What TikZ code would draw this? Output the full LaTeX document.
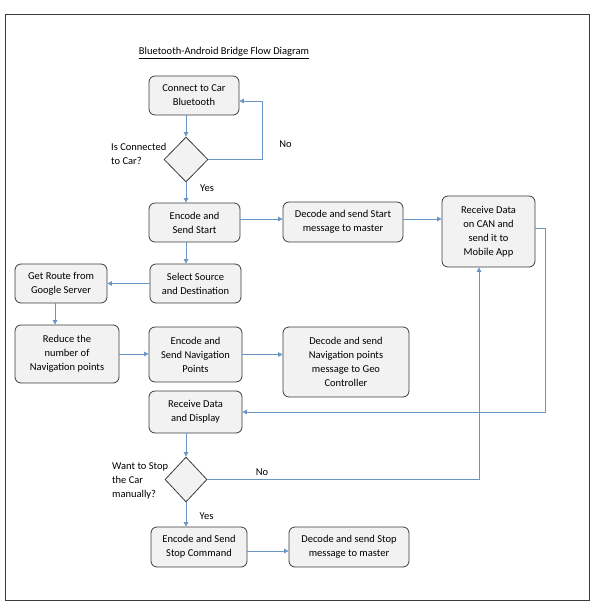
\documentclass[tikz,border=0pt]{standalone}
\usepackage{fontspec}
\setmainfont{Carlito}
\usetikzlibrary{arrows.meta,shapes.geometric,calc}
\definecolor{arrowblue}{RGB}{105,150,198}
\definecolor{boxfill}{RGB}{242,242,242}
\definecolor{boxline}{RGB}{60,60,60}
\begin{document}
\begin{tikzpicture}[x=1pt,y=-1pt,
  font=\fontsize{10.5}{14}\selectfont,
  procbox/.style={draw=boxline,fill=boxfill,line width=0.8pt,rounded corners=6pt,
    align=center,inner sep=2pt},
  decision/.style={diamond,draw=boxline,fill=boxfill,line width=0.8pt,inner sep=0pt},
  arr/.style={draw=arrowblue,line width=0.8pt,-{Triangle[width=4.5pt,length=4.5pt]}},
  lbl/.style={inner sep=0pt,align=left}]
\useasboundingbox (0,0) rectangle (595,613);
\draw[boxline,line width=1pt] (5.5,14.5) rectangle (589,600);
\node[inner sep=0pt] (title) at (224,53) {\underline{Bluetooth-Android Bridge Flow Diagram}};
% nodes
\node[procbox,minimum width=90pt,minimum height=39pt] (b1) at (194,95.5) {Connect to Car\\Bluetooth};
\node[decision,minimum width=44pt,minimum height=45pt] (d1) at (186,159.5) {};
\node[procbox,minimum width=91pt,minimum height=39pt] (b2) at (194.5,222.5) {Encode and\\Send Start};
\node[procbox,minimum width=91pt,minimum height=39pt] (b3) at (195.5,283.5) {Select Source\\and Destination};
\node[procbox,minimum width=92pt,minimum height=39pt] (b4) at (61,283.5) {Get Route from\\Google Server};
\node[procbox,minimum width=104pt,minimum height=58pt] (b5) at (67,354) {Reduce the\\number of\\Navigation points};
\node[procbox,minimum width=93pt,minimum height=55pt] (b6) at (195.5,354.5) {Encode and\\Send Navigation\\Points};
\node[procbox,minimum width=126pt,minimum height=70pt] (b7) at (346,362) {Decode and send\\Navigation points\\message to Geo\\Controller};
\node[procbox,minimum width=120pt,minimum height=40pt] (b8) at (343,222) {Decode and send Start\\message to master};
\node[procbox,minimum width=93pt,minimum height=71pt] (b9) at (488.5,231.5) {Receive Data\\on CAN and\\send it to\\Mobile App};
\node[procbox,minimum width=93pt,minimum height=42pt] (b10) at (195.5,412) {Receive Data\\and Display};
\node[decision,minimum width=42pt,minimum height=45pt] (d2) at (186,479.5) {};
\node[procbox,minimum width=96pt,minimum height=40pt] (b11) at (199,547) {Encode and Send\\Stop Command};
\node[procbox,minimum width=120pt,minimum height=40pt] (b12) at (349,547) {Decode and send Stop\\message to master};
% labels
\node[lbl,anchor=west] (q1) at (111,154) {Is Connected\\to Car?};
\node[lbl] (no1) at (285.5,144) {No};
\node[lbl] (yes1) at (207,188) {Yes};
\node[lbl,anchor=west] (q2) at (112,481) {Want to Stop\\the Car\\manually?};
\node[lbl] (no2) at (262,472) {No};
\node[lbl] (yes2) at (206.5,516) {Yes};
% helper coordinates
\coordinate (r1) at (0,219);
\coordinate (c45) at (55,0);
\coordinate (loop1) at (262,101);
\coordinate (loop2) at (545,228);
\coordinate (r11) at (0,551);
\coordinate (x9) at (479,0);
% connectors
\draw[arr] (b1.south -| d1.north) -- (d1.north);
\draw[arr] (d1.east) -| (loop1) -- (loop1 -| b1.east);
\draw[arr] (d1.south) -- (d1.south |- b2.north);
\draw[arr] (b2.east |- r1) -- (b8.west |- r1);
\draw[arr] (b8.east |- r1) -- (b9.west |- r1);
\draw[arr] (b2.south -| d1.south) -- (b3.north -| d1.south);
\draw[arr] (b3.west) -- (b3.west -| b4.east);
\draw[arr] (b4.south -| c45) -- (b5.north -| c45);
\draw[arr] (b5.east) -- (b5.east -| b6.west);
\draw[arr] (b6.east) -- (b6.east -| b7.west);
\draw[arr] (b9.east |- loop2) -- (loop2) |- (b10.east);
\draw[arr] (b10.south -| d2.north) -- (d2.north);
\draw[arr] (d2.east) -| (b9.south -| x9);
\draw[arr] (d2.south) -- (d2.south |- b11.north);
\draw[arr] (b11.east |- r11) -- (b12.west |- r11);
\end{tikzpicture}
\end{document}
